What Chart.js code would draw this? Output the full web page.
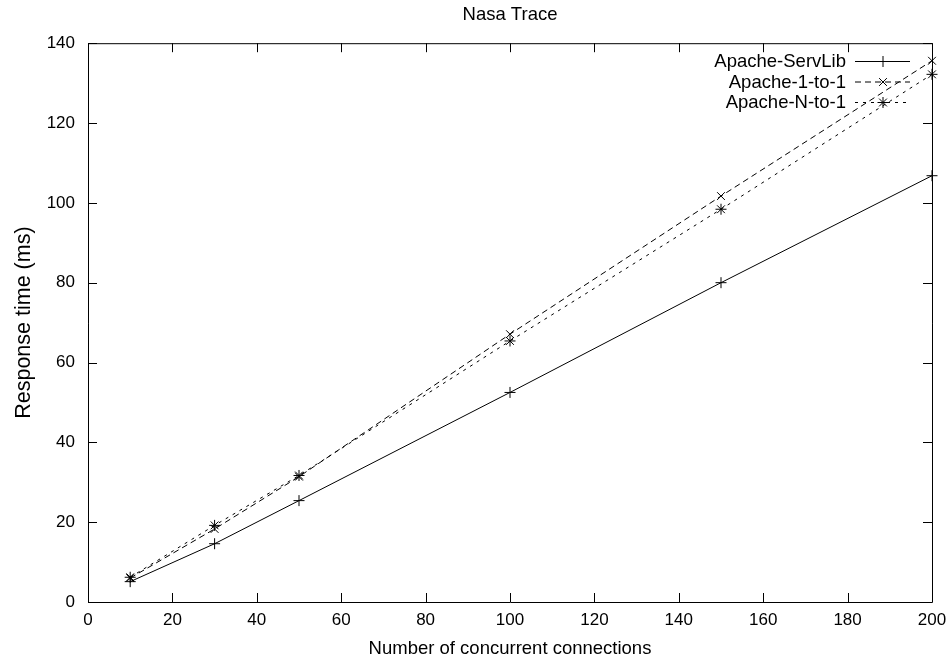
<!DOCTYPE html>
<html lang="en">
<head>
    <meta charset="UTF-8">
    <title>Nasa Trace</title>
    <script src="https://cdn.jsdelivr.net/npm/chart.js"></script>
    <style>
        body {
            margin: 0;
            padding: 0;
            background: #ffffff;
        }
        .wrap {
            width: 951px;
            height: 662px;
        }
    </style>
</head>
<body>

<div class="wrap">
    <canvas id="nasaChart" width="951" height="662"></canvas>
</div>

<script>
    // connections on the x axis
    const connections = [10, 30, 50, 100, 150, 200];
    // response time (ms) per server
    const servLib = [5.1, 14.6, 25.4, 52.5, 80.0, 106.8];
    const oneToOne = [6.0, 18.3, 31.4, 67.1, 101.7, 135.6];
    const nToOne = [6.2, 19.2, 31.7, 65.4, 98.4, 132.2];
    const seriesNames = ['Apache-ServLib', 'Apache-1-to-1', 'Apache-N-to-1'];

    const FONT = 'Liberation Sans, Arial, Helvetica, sans-serif';

    function toPoints(ys) {
        return connections.map((x, i) => ({ x: x, y: ys[i] }));
    }

    // gnuplot-style box with inward ticks on all four sides
    const frame = {
        id: 'frame',
        afterDatasetsDraw(chart) {
            const ctx = chart.ctx;
            const a = chart.chartArea;
            const xs = chart.scales.x, ys = chart.scales.y;
            const len = 9;
            ctx.save();
            ctx.strokeStyle = '#000';
            ctx.lineWidth = 1;
            ctx.beginPath();
            ctx.rect(a.left + 0.5, a.top + 0.5, a.right - a.left, a.bottom - a.top);
            xs.ticks.forEach(t => {
                const px = Math.round(xs.getPixelForValue(t.value)) + 0.5;
                ctx.moveTo(px, a.bottom); ctx.lineTo(px, a.bottom - len);
                ctx.moveTo(px, a.top); ctx.lineTo(px, a.top + len);
            });
            ys.ticks.forEach(t => {
                const py = Math.round(ys.getPixelForValue(t.value)) + 0.5;
                ctx.moveTo(a.left, py); ctx.lineTo(a.left + len, py);
                ctx.moveTo(a.right, py); ctx.lineTo(a.right - len, py);
            });
            ctx.stroke();

            // key in the top right corner: label then line sample
            ctx.font = '18.5px ' + FONT;
            ctx.textAlign = 'right';
            ctx.textBaseline = 'middle';
            ctx.fillStyle = '#000';
            chart.data.datasets.forEach((ds, i) => {
                const y = 61 + i * 20.5;
                const x0 = 855, x1 = 910;
                ctx.fillText(ds.label, 846, y + 1);
                ctx.beginPath();
                ctx.setLineDash(ds.borderDash || []);
                ctx.moveTo(x0, y + 0.5); ctx.lineTo(x1, y + 0.5);
                ctx.stroke();
                ctx.setLineDash([]);
                Chart.helpers.drawPoint(ctx, {
                    pointStyle: ds.pointStyle,
                    radius: ds.pointRadius,
                    borderWidth: 1
                }, 883, y + 0.5);
            });
            ctx.restore();
        }
    };

    function series(label, ys, dash, style) {
        return {
            label: label,
            data: toPoints(ys),
            borderColor: '#000',
            backgroundColor: '#000',
            borderWidth: 1,
            borderDash: dash,
            pointStyle: style,
            pointRadius: 5.5,
            pointBorderWidth: 1,
            pointBorderColor: '#000',
            tension: 0,
            fill: false,
            clip: false
        };
    }

    new Chart(document.getElementById('nasaChart'), {
        type: 'line',
        data: {
            datasets: [
                series(seriesNames[0], servLib, [], 'cross'),
                series(seriesNames[1], oneToOne, [6, 4], 'crossRot'),
                series(seriesNames[2], nToOne, [3, 5], 'star')
            ]
        },
        options: {
            responsive: false,
            animation: false,
            layout: { padding: { top: 0, right: 19, left: 0, bottom: 0 } },
            plugins: {
                legend: { display: false },
                tooltip: { enabled: false },
                title: {
                    display: true,
                    fullSize: false,
                    text: 'Nasa Trace',
                    color: '#000',
                    font: { family: FONT, size: 18.5, weight: 'normal' },
                    padding: { top: 4, bottom: 17 }
                }
            },
            scales: {
                x: {
                    type: 'linear',
                    min: 0,
                    max: 200,
                    ticks: {
                        stepSize: 20,
                        color: '#000',
                        padding: 8,
                        maxRotation: 0,
                        font: { family: FONT, size: 17 }
                    },
                    grid: { display: true, drawOnChartArea: false, drawTicks: false },
                    border: { display: false },
                    title: {
                        display: true,
                        text: 'Number of concurrent connections',
                        color: '#000',
                        font: { family: FONT, size: 18.5 },
                        padding: { top: 4, bottom: 2 }
                    },
                    afterFit(scale) {
                        scale.height = 60;
                        scale.paddingRight = 0;
                    }
                },
                y: {
                    min: 0,
                    max: 140,
                    ticks: {
                        stepSize: 20,
                        color: '#000',
                        padding: 13,
                        font: { family: FONT, size: 17 }
                    },
                    grid: { display: true, drawOnChartArea: false, drawTicks: false },
                    border: { display: false },
                    title: {
                        display: true,
                        text: 'Response time (ms)',
                        color: '#000',
                        font: { family: FONT, size: 21.5 },
                        padding: { top: 11, bottom: 4 }
                    },
                    afterFit(scale) { scale.width = 88; }
                }
            }
        },
        plugins: [frame]
    });
</script>

</body>
</html>
